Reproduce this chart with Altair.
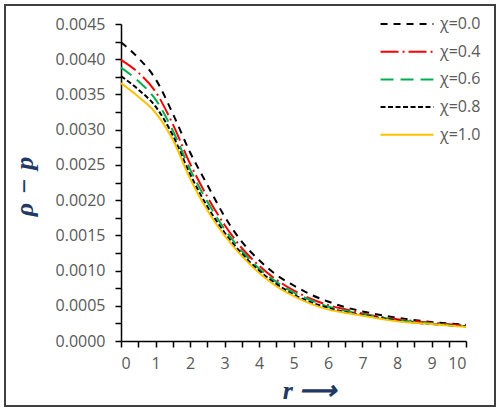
import altair as alt
import pandas as pd

# Radial coordinate r
r = [0, 0.5, 1, 1.5, 2, 2.5, 3, 3.5, 4, 4.5, 5, 5.5, 6, 6.5, 7, 8, 9, 10]

# rho - p for each value of chi
chi_00 = [0.00424, 0.00402, 0.00372, 0.00323, 0.00268, 0.00222, 0.00177, 0.00141, 0.00115,
          0.00094, 0.00079, 0.00066, 0.00056, 0.00048, 0.00042, 0.00033, 0.00027, 0.00023]
chi_04 = [0.00399, 0.00381, 0.00354, 0.00308, 0.00252, 0.00205, 0.00165, 0.00132, 0.00107,
          0.00087, 0.00072, 0.00060, 0.00051, 0.00045, 0.00039, 0.00031, 0.00026, 0.00022]
chi_06 = [0.00388, 0.00369, 0.00343, 0.00299, 0.00244, 0.00198, 0.00159, 0.00128, 0.00103,
          0.00084, 0.00069, 0.00058, 0.00049, 0.00043, 0.00038, 0.00030, 0.00025, 0.00021]
chi_08 = [0.00376, 0.00357, 0.00333, 0.00292, 0.00237, 0.00191, 0.00154, 0.00124, 0.00100,
          0.00081, 0.00066, 0.00055, 0.00047, 0.00041, 0.00037, 0.00029, 0.00024, 0.00021]
chi_10 = [0.00366, 0.00347, 0.00324, 0.00286, 0.00231, 0.00186, 0.00150, 0.00121, 0.00097,
          0.00078, 0.00064, 0.00053, 0.00045, 0.00040, 0.00036, 0.00028, 0.00024, 0.00020]

series_names = ["χ=0.0", "χ=0.4", "χ=0.6", "χ=0.8", "χ=1.0"]
series_values = [chi_00, chi_04, chi_06, chi_08, chi_10]
series_colors = ["#000000", "#FF0000", "#00B050", "#000000", "#FFC000"]
series_dashes = [[7, 6], [18, 4, 2, 4], [13, 7], [5, 2.5], [1, 0]]

rows = []
for k, (name, vals) in enumerate(zip(series_names, series_values)):
    for rr, v in zip(r, vals):
        rows.append({"r": rr, "v": v, "series": name, "order": k})
df = pd.DataFrame(rows)

y_ticks = [round(i * 0.00025, 5) for i in range(19)]
x_ticks = [i * 0.5 for i in range(21)]

label_grey = "#595959"
title_blue = "#1F3864"

# Wide horizontal stroke as the legend swatch
legend = alt.Legend(
    title=None, orient="none", legendX=278, legendY=-8,
    symbolType="M-5,0H5", symbolSize=112, symbolStrokeWidth=2,
    labelFont="Open Sans", labelFontSize=16, labelColor=label_grey,
    labelOffset=25, rowPadding=11.7,
)

lines = alt.Chart(df).mark_line(strokeWidth=2, interpolate="monotone").encode(
    x=alt.X(
        "r:Q",
        scale=alt.Scale(domain=[0, 10], nice=False),
        axis=alt.Axis(
            values=x_ticks,
            labelExpr="round(datum.value * 2) % 2 == 0 ? format(datum.value, 'd') : ''",
            labelOverlap=False, grid=False,
            title="r ⟶", titleFont="Liberation Serif", titleFontStyle="italic",
            titleFontWeight="bold", titleFontSize=26, titleColor=title_blue,
            titleX=188, titleY=57, titleBaseline="alphabetic", titleAlign="center",
            labelPadding=8,
        ),
    ),
    y=alt.Y(
        "v:Q",
        scale=alt.Scale(domain=[0, 0.0045], nice=False),
        axis=alt.Axis(
            values=y_ticks,
            labelExpr="round(datum.value / 0.00025) % 2 == 0 ? format(datum.value, '.4f') : ''",
            labelOverlap=False, grid=False,
            title="ρ\u2004−\u2004p", titleFont="Liberation Serif", titleFontStyle="italic",
            titleFontWeight="bold", titleFontSize=26, titleColor=title_blue,
            titleX=-89, titleY=162, titleBaseline="alphabetic", titleAlign="center",
            titleAngle=270, labelPadding=10,
        ),
    ),
    color=alt.Color("series:N", sort=series_names,
                    scale=alt.Scale(domain=series_names, range=series_colors), legend=legend),
    strokeDash=alt.StrokeDash("series:N", sort=series_names,
                              scale=alt.Scale(domain=series_names, range=series_dashes), legend=legend),
    order="order:Q",
)

# Frame around the whole figure
frame = alt.Chart(alt.Data(values=[{"f": 1}])).mark_rect(
    fillOpacity=0, stroke="#3f3f3f", strokeWidth=2, clip=False
).encode(
    x=alt.value(-116), x2=alt.value(374), y=alt.value(-19), y2=alt.value(382)
)

chart = alt.layer(lines, frame).properties(
    width=345, height=317,
    background="white",
    autosize=alt.AutoSizeParams(type="none"),
    padding={"left": 121, "top": 24, "right": 36, "bottom": 73},
).configure_view(stroke=None).configure_axis(
    labelFont="Open Sans", labelFontSize=16, labelColor=label_grey,
    domainColor="#000000", domainWidth=1.5, tickColor="#000000", tickWidth=1.5, tickSize=6,
)

chart.save("out.html", embed_options={"renderer": "svg", "actions": False})
